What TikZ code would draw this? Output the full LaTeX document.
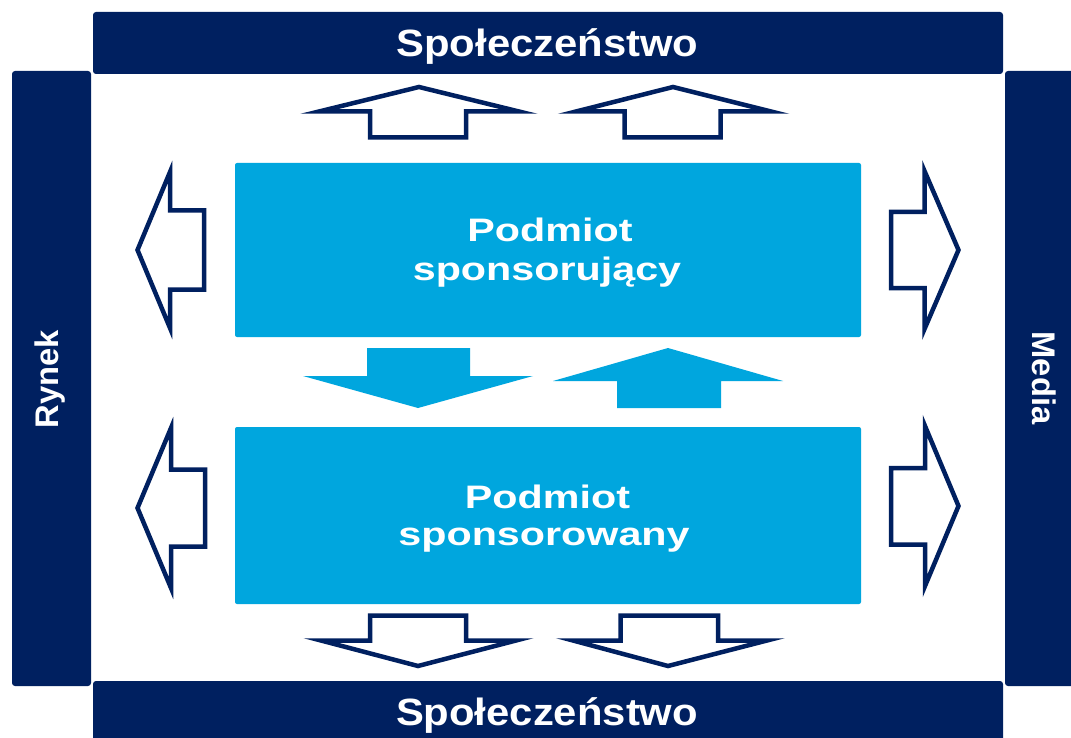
\documentclass[tikz,border=0pt]{standalone}
\usepackage{fontspec}
\setmainfont{Liberation Sans}
\newfontfamily\barfont[FakeStretch=1.1]{Liberation Sans}
\newfontfamily\boxfont[FakeStretch=1.27]{Liberation Sans}
\newfontfamily\sidefont{Liberation Sans}
\definecolor{navy}{RGB}{0,32,96}
\definecolor{sky}{RGB}{0,166,222}
\tikzset{
  barshape/.style={fill=navy, rounded corners=3pt},
  boxshape/.style={fill=sky, rounded corners=2pt},
  bartext/.style={text=white, anchor=base, inner sep=0pt, font=\barfont\bfseries\fontsize{38}{44}\selectfont},
  sidetext/.style={text=white, anchor=base, inner sep=0pt, font=\sidefont\bfseries\fontsize{32.7}{38}\selectfont},
  boxtext/.style={text=white, anchor=base, inner sep=0pt, font=\boxfont\bfseries\fontsize{32.5}{38}\selectfont},
  hollowarrow/.style={draw=navy, fill=white, line width=4.5pt, line join=miter},
  solidarrow/.style={fill=sky}
}
\begin{document}
\begin{tikzpicture}[x=1pt,y=-1pt]
\useasboundingbox (0,0) rectangle (1071,738);
\clip (0,0) rectangle (1071,738);
\fill[white] (0,0) rectangle (1071,738);
% frame bars
\fill[barshape] (93,12) rectangle (1003,74);
\fill[barshape] (12,71) rectangle (91,686);
\fill[barshape] (1005,71) rectangle (1090,686);
\fill[barshape] (93,681) rectangle (1003,760);
\node[bartext] (spoltop) at (547.5,57) {Społeczeństwo};
\node[bartext] (spolbot) at (547,725) {Społeczeństwo};
\node[sidetext, rotate=90] (rynek) at (58,379) {Rynek};
\node[sidetext, rotate=-90] (media) at (1032,378) {Media};
% blue boxes
\fill[boxshape] (235,163) rectangle (861,337);
\fill[boxshape] (235,427) rectangle (861,604);
\node[boxtext] (s1a) at (550,242) {Podmiot};
\node[boxtext] (s1b) at (547,280) {sponsorujący};
\node[boxtext] (s2a) at (547.5,508) {Podmiot};
\node[boxtext] (s2b) at (544,545) {sponsorowany};
% solid arrows between boxes
\fill[solidarrow] (418,408) -- (533,376) -- (470,376) -- (470,348) -- (367,348) -- (367,376) -- (303,376) -- cycle;
\fill[solidarrow] (668,348) -- (783,381) -- (721,381) -- (721,408) -- (617,408) -- (617,381) -- (553,381) -- cycle;
% hollow arrows up (top)
\draw[hollowarrow] (419,87) -- (519,111.5) -- (466,111.5) -- (466,137.5) -- (370,137.5) -- (370,111.5) -- (319,111.5) -- cycle;
\draw[hollowarrow] (673,87) -- (771,111.5) -- (720.5,111.5) -- (720.5,137.5) -- (624.5,137.5) -- (624.5,111.5) -- (576,111.5) -- cycle;
% hollow arrows down (bottom)
\draw[hollowarrow] (418,666) -- (516,640.5) -- (466,640.5) -- (466,615.5) -- (370,615.5) -- (370,640.5) -- (321,640.5) -- cycle;
\draw[hollowarrow] (668,666) -- (767,640.5) -- (718,640.5) -- (718,615.5) -- (620.5,615.5) -- (620.5,640.5) -- (573,640.5) -- cycle;
% hollow arrows left
\draw[hollowarrow] (137.5,250) -- (170,172) -- (170,210.5) -- (204,210.5) -- (204,289.5) -- (170,289.5) -- (170,328) -- cycle;
\draw[hollowarrow] (137.5,508) -- (171,428) -- (171,469.5) -- (205,469.5) -- (205,546.5) -- (171,546.5) -- (171,588) -- cycle;
% hollow arrows right
\draw[hollowarrow] (958.5,250) -- (924.5,171) -- (924.5,212) -- (891,212) -- (891,288) -- (924.5,288) -- (924.5,329) -- cycle;
\draw[hollowarrow] (958.5,506) -- (925,426) -- (925,468) -- (891,468) -- (891,544.5) -- (925,544.5) -- (925,586) -- cycle;
\end{tikzpicture}
\end{document}
